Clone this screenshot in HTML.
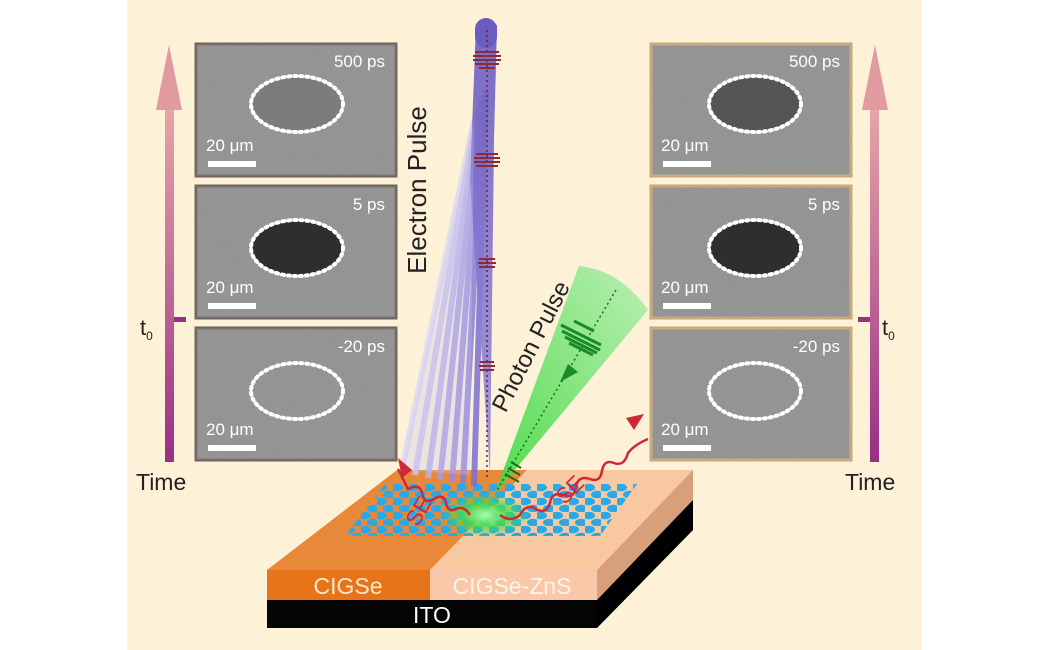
<!DOCTYPE html>
<html><head><style>
body{margin:0;background:#fff;}
svg{display:block;font-family:"Liberation Sans",Arial,sans-serif;}
</style></head><body>
<svg width="1050" height="650" viewBox="0 0 1050 650" xmlns="http://www.w3.org/2000/svg">
<defs>
<filter id="noise" x="0" y="0" width="100%" height="100%">
<feTurbulence type="fractalNoise" baseFrequency="0.9" numOctaves="2" seed="3"/>
<feColorMatrix type="matrix" values="0 0 0 0 0.5  0 0 0 0 0.5  0 0 0 0 0.5  0 0 0 0.35 0"/>
<feComposite in2="SourceGraphic" operator="in"/>
</filter>
<linearGradient id="arr" x1="0" y1="1" x2="0" y2="0">
<stop offset="0" stop-color="#9a2e86"/><stop offset="1" stop-color="#e8a8a8"/></linearGradient>
<linearGradient id="beam" x1="0" y1="0" x2="0" y2="1">
<stop offset="0" stop-color="#6a5cc0"/><stop offset="1" stop-color="#9a90dc"/></linearGradient>
<linearGradient id="cone" x1="1" y1="0" x2="0" y2="1">
<stop offset="0" stop-color="#a8eea8" stop-opacity="0.8"/><stop offset="1" stop-color="#3ad83a" stop-opacity="0.9"/></linearGradient>
<radialGradient id="glow"><stop offset="0" stop-color="#aaffaa"/><stop offset="0.5" stop-color="#44dd44" stop-opacity="0.8"/><stop offset="1" stop-color="#44dd44" stop-opacity="0"/></radialGradient>
<pattern id="dots" x="345" y="484" width="16" height="14" patternUnits="userSpaceOnUse">
<ellipse cx="4" cy="3.5" rx="6" ry="3.8" fill="#2aa8e8"/><ellipse cx="12" cy="10.5" rx="6" ry="3.8" fill="#2aa8e8"/></pattern>
</defs>
<rect x="127" y="0" width="795" height="650" fill="#fdf1d8"/>

<rect x="165" y="100" width="9" height="362" fill="url(#arr)"/>
<polygon points="169,45 156,110 182,110" fill="#e09aa0"/>
<rect x="174" y="317" width="12" height="5" fill="#9a2e86"/>
<text x="140" y="335" font-size="22" fill="#222">t<tspan font-size="12" dy="5">0</tspan></text>
<text x="136" y="490" font-size="23" fill="#222">Time</text>
<rect x="870" y="100" width="9" height="362" fill="url(#arr)"/>
<polygon points="875,45 862,110 888,110" fill="#e09aa0"/>
<rect x="858" y="317" width="12" height="5" fill="#9a2e86"/>
<text x="882" y="335" font-size="22" fill="#222">t<tspan font-size="12" dy="5">0</tspan></text>
<text x="845" y="490" font-size="23" fill="#222">Time</text>

<g>
<g>
<rect x="196" y="44" width="200" height="132" fill="#8c8c8c" stroke="#6e625c" stroke-width="3"/>
<rect x="196" y="44" width="200" height="132" fill="#888" filter="url(#noise)"/>
<ellipse cx="297" cy="104" rx="46" ry="28" fill="#7c7c7c" stroke="#fff" stroke-width="4" stroke-dasharray="2 4" stroke-linecap="round"/>
<text x="385" y="67" font-size="17" fill="#fff" text-anchor="end">500 ps</text>
<text x="206" y="151" font-size="17" fill="#fff">20 μm</text><rect x="208" y="161" width="48" height="6" fill="#fff"/>
</g>
<g>
<rect x="196" y="186" width="200" height="132" fill="#8c8c8c" stroke="#6e625c" stroke-width="3"/>
<rect x="196" y="186" width="200" height="132" fill="#888" filter="url(#noise)"/>
<ellipse cx="297" cy="248" rx="46" ry="28" fill="#2e2e2e" stroke="#fff" stroke-width="4" stroke-dasharray="2 4" stroke-linecap="round"/>
<text x="385" y="210" font-size="17" fill="#fff" text-anchor="end">5 ps</text>
<text x="206" y="293" font-size="17" fill="#fff">20 μm</text><rect x="208" y="303" width="48" height="6" fill="#fff"/>
</g>
<g>
<rect x="196" y="328" width="200" height="132" fill="#8c8c8c" stroke="#6e625c" stroke-width="3"/>
<rect x="196" y="328" width="200" height="132" fill="#888" filter="url(#noise)"/>
<ellipse cx="297" cy="391" rx="46" ry="28" fill="none" stroke="#fff" stroke-width="4" stroke-dasharray="2 4" stroke-linecap="round"/>
<text x="385" y="352" font-size="17" fill="#fff" text-anchor="end">-20 ps</text>
<text x="206" y="435" font-size="17" fill="#fff">20 μm</text><rect x="208" y="445" width="48" height="6" fill="#fff"/>
</g>
</g>
<g transform="translate(455,0)">
<g>
<rect x="196" y="44" width="200" height="132" fill="#8c8c8c" stroke="#c8a878" stroke-width="3"/>
<rect x="196" y="44" width="200" height="132" fill="#888" filter="url(#noise)"/>
<ellipse cx="300" cy="104" rx="46" ry="28" fill="#555" stroke="#fff" stroke-width="4" stroke-dasharray="2 4" stroke-linecap="round"/>
<text x="385" y="67" font-size="17" fill="#fff" text-anchor="end">500 ps</text>
<text x="206" y="151" font-size="17" fill="#fff">20 μm</text><rect x="208" y="161" width="48" height="6" fill="#fff"/>
</g>
<g>
<rect x="196" y="186" width="200" height="132" fill="#8c8c8c" stroke="#c8a878" stroke-width="3"/>
<rect x="196" y="186" width="200" height="132" fill="#888" filter="url(#noise)"/>
<ellipse cx="300" cy="248" rx="46" ry="28" fill="#2e2e2e" stroke="#fff" stroke-width="4" stroke-dasharray="2 4" stroke-linecap="round"/>
<text x="385" y="210" font-size="17" fill="#fff" text-anchor="end">5 ps</text>
<text x="206" y="293" font-size="17" fill="#fff">20 μm</text><rect x="208" y="303" width="48" height="6" fill="#fff"/>
</g>
<g>
<rect x="196" y="328" width="200" height="132" fill="#8c8c8c" stroke="#c8a878" stroke-width="3"/>
<rect x="196" y="328" width="200" height="132" fill="#888" filter="url(#noise)"/>
<ellipse cx="300" cy="391" rx="46" ry="28" fill="none" stroke="#fff" stroke-width="4" stroke-dasharray="2 4" stroke-linecap="round"/>
<text x="385" y="352" font-size="17" fill="#fff" text-anchor="end">-20 ps</text>
<text x="206" y="435" font-size="17" fill="#fff">20 μm</text><rect x="208" y="445" width="48" height="6" fill="#fff"/>
</g>
</g>

<polygon points="267,570 397,470 527,470 430,570" fill="#e8893a"/>
<polygon points="430,570 527,470 693,470 597,570" fill="#f8c8a0"/>
<polygon points="597,570 693,470 693,500 597,600" fill="#d8a07a"/>
<polygon points="597,600 693,500 693,530 597,628" fill="#000"/>
<rect x="267" y="570" width="163" height="30" fill="#e8741a"/>
<rect x="430" y="570" width="167" height="30" fill="#f8c8a8"/>
<rect x="267" y="600" width="330" height="28" fill="#050505"/>
<text x="348" y="594" font-size="23" fill="#fde8d0" text-anchor="middle">CIGSe</text>
<text x="512" y="594" font-size="23" fill="#fff4ea" text-anchor="middle">CIGSe-ZnS</text>
<text x="432" y="623" font-size="23" fill="#fff" text-anchor="middle">ITO</text>
<polygon points="345,536 385,484 637,484 600,536" fill="url(#dots)"/>
<ellipse cx="485" cy="515" rx="45" ry="22" fill="url(#glow)"/>

<g stroke-width="6" opacity="0.85">
<line x1="474" y1="120" x2="402" y2="470" stroke="#dcdaf2"/>
<line x1="476" y1="115" x2="415" y2="475" stroke="#cac4ee"/>
<line x1="478" y1="110" x2="428" y2="478" stroke="#b8b0ea"/>
<line x1="480" y1="105" x2="440" y2="480" stroke="#a69ce2"/>
<line x1="482" y1="100" x2="452" y2="482" stroke="#968cdc"/>
<line x1="484" y1="95" x2="463" y2="484" stroke="#887ed6"/>
<line x1="486" y1="90" x2="474" y2="486" stroke="#7a70d0"/>
</g>
<polygon points="476,25 497,25 494,140 490,475 470,180" fill="url(#beam)" opacity="0.9"/>
<polygon points="474,120 402,470 470,475" fill="#c8c2ee" opacity="0.3"/>
<rect x="475" y="18" width="22" height="30" rx="11" fill="#6a5cc0"/>
<line x1="487" y1="30" x2="487" y2="478" stroke="#6a2040" stroke-width="1.5" stroke-dasharray="2 3"/>
<g stroke="#8a2a3a" stroke-width="2">
<path d="M475,52 h24 M473,56 h28 M473,60 h28 M475,64 h24 M479,68 h16"/>
<path d="M476,154 h22 M474,158 h26 M474,162 h26 M476,166 h22"/>
<path d="M479,259 h16 M478,263 h18 M479,267 h16"/>
<path d="M480,362 h14 M479,366 h16 M480,370 h14"/>
</g>
<text transform="translate(426,190) rotate(-90)" font-size="26" fill="#222" text-anchor="middle">Electron Pulse</text>

<path d="M579,266 Q620,270 648,310 L494,495 Z" fill="url(#cone)"/>
<line x1="616" y1="290" x2="496" y2="492" stroke="#1a6a1a" stroke-width="1.5" stroke-dasharray="2 3"/>
<g stroke="#1a8a2a" stroke-width="3" fill="none">
<path d="M561,325 l40,20 M562,331 l38,19 M565,337 l32,16 M569,343 l24,12 M574,321 l20,10"/>
</g>
<polygon points="568,364 560,382 578,372" fill="#1a8a2a"/>
<path d="M505,474 l14,8 M508,468 l12,7 M511,462 l10,6" stroke="#1a6a1a" stroke-width="2"/>
<text transform="translate(538,350) rotate(-63)" font-size="24" fill="#222" text-anchor="middle">Photon Pulse</text>

<path d="M470,515 q-6,-10 -14,-6 q-8,4 -10,-6 q-2,-10 -12,-4 q-10,6 -12,-6 q-2,-10 -14,-4 l-10,-20" fill="none" stroke="#d02838" stroke-width="2.5"/>
<polygon points="398,458 402,478 412,470" fill="#d02838"/>
<path d="M500,515 q10,8 20,0 q6,-12 16,-6 q10,6 14,-6 q2,-12 14,-8 q10,4 12,-8 q2,-12 14,-8 q10,4 12,-8 q2,-12 12,-8 q10,4 14,-10 q6,-8 20,-14" fill="none" stroke="#d02838" stroke-width="2.5"/>
<polygon points="644,414 626,418 634,430" fill="#d02838"/>
<text transform="translate(425,515) rotate(-60)" font-size="22" fill="#d02838" text-anchor="middle">SE</text>
<text transform="translate(575,495) rotate(-45)" font-size="22" fill="#d02838" text-anchor="middle">SE</text>
</svg>
</body></html>
